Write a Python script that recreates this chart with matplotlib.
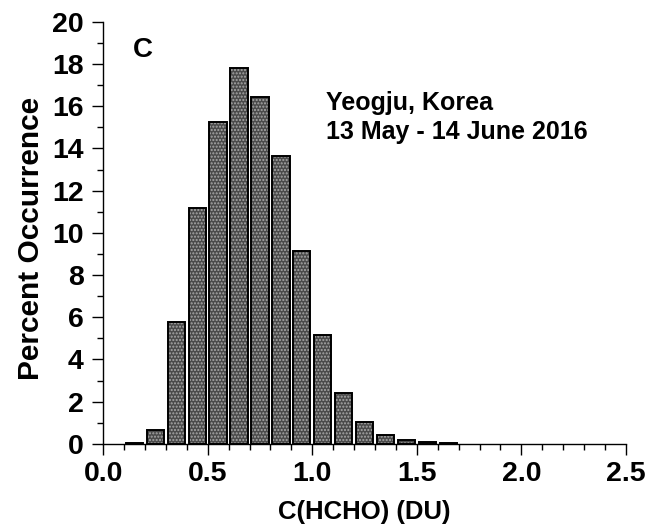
import matplotlib
matplotlib.use("Agg")
import matplotlib.pyplot as plt
from matplotlib.ticker import MultipleLocator

plt.rcParams['font.family'] = ['Liberation Sans', 'DejaVu Sans']
plt.rcParams['font.weight'] = 'bold'

bin_centers = [0.15, 0.25, 0.35, 0.45, 0.55, 0.65, 0.75, 0.85, 0.95, 1.05,
               1.15, 1.25, 1.35, 1.45, 1.55, 1.65]
percent = [0.05, 0.65, 5.77, 11.2, 15.26, 17.83, 16.43, 13.63, 9.15, 5.17,
           2.42, 1.06, 0.40, 0.19, 0.07, 0.03]
x_ticks = [0.0, 0.5, 1.0, 1.5, 2.0, 2.5]
y_ticks = [0, 2, 4, 6, 8, 10, 12, 14, 16, 18, 20]

fig = plt.figure(figsize=(6.61, 5.31), dpi=100)
ax = fig.add_axes([0.156, 0.164, 0.791, 0.795])

bar_w = 0.083
# hatched fill
ax.bar(bin_centers, percent, width=bar_w, color='#4a4a4a', edgecolor='#a8a8a8',
       hatch='.....', linewidth=0, zorder=2)
# outlines
ax.bar(bin_centers, percent, width=bar_w, fill=False, edgecolor='black',
       linewidth=1.4, zorder=3)

ax.set_xlim(0, 2.5)
ax.set_ylim(0, 20)
ax.set_xticks(x_ticks)
ax.set_xticklabels([f"{v:.1f}" for v in x_ticks])
ax.set_yticks(y_ticks)
ax.xaxis.set_minor_locator(MultipleLocator(0.1))
ax.yaxis.set_minor_locator(MultipleLocator(1))

for s in ['top', 'right']:
    ax.spines[s].set_visible(False)
for s in ['left', 'bottom']:
    ax.spines[s].set_linewidth(1.0)

ax.tick_params(which='major', direction='out', length=8, width=1.0,
               labelsize=20.5)
ax.tick_params(axis='y', which='major', pad=6)
ax.tick_params(axis='x', which='major', pad=4)
ax.tick_params(which='minor', direction='out', length=4, width=1.0)
for lab in ax.get_xticklabels() + ax.get_yticklabels():
    lab.set_fontweight('bold')

ax.set_xlabel('C(HCHO) (DU)', fontsize=18.5, fontweight='bold', labelpad=10)
ax.set_ylabel('Percent Occurrence', fontsize=21.5, fontweight='bold')
ax.yaxis.set_label_coords(-0.112, 0.486)

ax.text(0.144, 18.34, 'C', fontsize=20, fontweight='bold',
        va='baseline', ha='left')
ax.text(1.067, 15.83, 'Yeogju, Korea', fontsize=18, fontweight='bold',
        va='baseline', ha='left')
ax.text(1.067, 14.45, '13 May - 14 June 2016', fontsize=18, fontweight='bold',
        va='baseline', ha='left')

fig.savefig('out.png', dpi=100)
